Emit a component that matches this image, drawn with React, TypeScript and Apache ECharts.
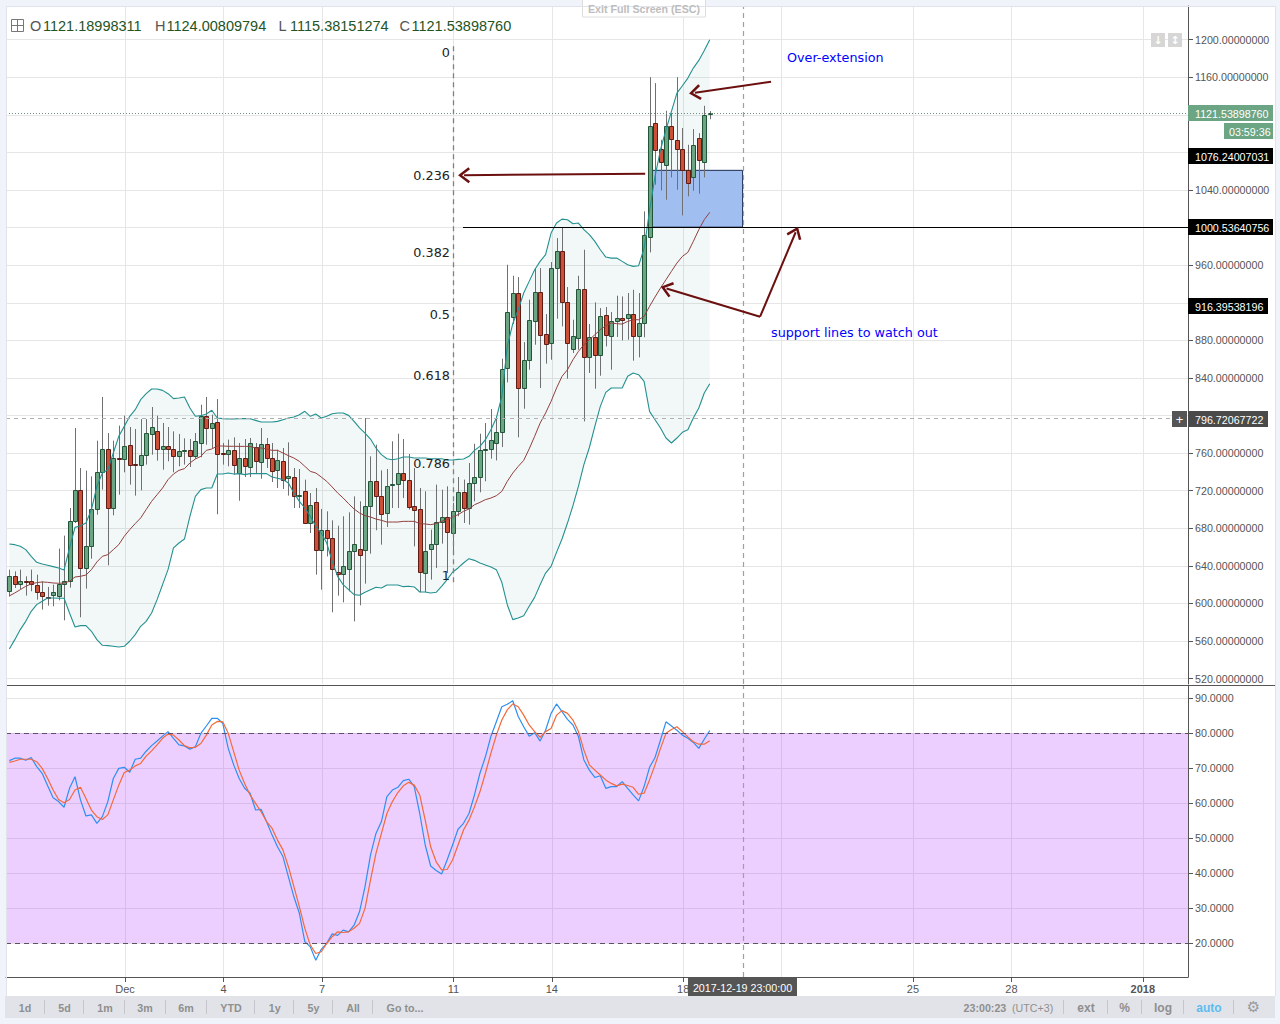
import React, { useEffect, useRef } from "react";
import * as echarts from "echarts";

const opens = [
  613.0, 628.9, 620.8, 624, 624, 619.7, 612.3, 606.9, 608.7, 607.6,
  620.8, 623.6, 687.8, 720.8, 637.8, 661.2, 700.6, 739.9, 764.4, 701.6,
  754.8, 753.8, 768.7, 748.1, 747.4, 758, 780.4, 783.6, 764.4, 767.6,
  764.4, 756.6, 762.3, 763.4, 757, 770.8, 799.5, 786.8, 793.2, 759.8,
  759.1, 763.4, 738.9, 754.8, 745.2, 766.5, 750.6, 769.7, 754.8, 742,
  751.6, 733.5, 734.6, 714.4, 719.7, 685.7, 708, 656.9, 678.2, 669.7,
  633.5, 631.4, 636.7, 655.9, 658, 656.9, 703.8, 730.4, 714.4, 696.3,
  725.7, 727.2, 738.9, 731.4, 703.8, 700.6, 632.5, 658, 663.3, 686.7,
  692, 675, 698.4, 718.6, 701.6, 728.2, 734.6, 763.3, 764.4, 770.8,
  782.5, 850.6, 904.8, 930.4, 829.3, 859.1, 900.6, 931.4, 886.8, 877.2,
  957, 975.1, 920.8, 870.8, 882.5, 934.6, 862.3, 883.6, 864.4, 907,
  884.6, 900.6, 903.8, 903.8, 908, 884.6, 898.5, 990, 1111.3, 1083.6,
  1066.6, 1108.1, 1093.2, 1083.6, 1061.3, 1053.8, 1095.3, 1069.8, 1121.19,
];
const closes = [
  628.9, 620.8, 624, 623.6, 620.8, 612.3, 607.6, 606.6, 612.3, 620.8,
  624, 687.8, 720.8, 637.8, 661.2, 700.6, 739.9, 764.4, 701.6, 754.8,
  753.8, 767.6, 747.4, 747.4, 758, 781.4, 787.8, 764.4, 767.6, 764.4,
  756.6, 762.3, 763.4, 756.6, 772.9, 799.5, 786.8, 792.1, 759.1, 759.1,
  763.4, 747.4, 754.8, 746.3, 770.8, 751.6, 769.7, 754.8, 741, 752.7,
  731.4, 735.7, 714.4, 715.5, 685.7, 704.8, 656.9, 678.2, 669.7, 636.7,
  631.4, 639.9, 655.9, 663.3, 651.6, 703.8, 730.4, 714.4, 695.2, 725,
  727.2, 738.9, 731.4, 702.7, 699.5, 633.5, 655.9, 663.3, 686.7, 692,
  676.1, 698.4, 718.6, 701.6, 728.2, 734.6, 763.7, 764.4, 774.3, 782.5,
  849.5, 910.2, 930.4, 829.3, 859.1, 901.7, 931.4, 885.7, 876.1, 957,
  975.1, 920.8, 877.2, 884.6, 934.6, 862.3, 883.6, 864.4, 905.9, 885.7,
  900.6, 903.8, 901.7, 908, 884.6, 898.5, 992.1, 1108.1, 1082.6, 1069.8,
  1108.1, 1094.3, 1083.6, 1061.3, 1047.4, 1087.9, 1071.9, 1119.8, 1121.54,
];
const highs = [
  636, 634.2, 636, 628.9, 636, 630.7, 623.6, 617.6, 620, 658.4,
  672.2, 701.6, 786.8, 744.2, 741.4, 735.3, 773.3, 819.8, 781.4, 773.3,
  789.3, 799.9, 787.8, 785.7, 796.3, 796.3, 809.1, 799.9, 792.1, 787.8,
  783.2, 780.4, 775.8, 775.1, 781.4, 811.6, 819.8, 801, 817.6, 770.8,
  774.4, 776.8, 770.8, 775, 776.1, 770.8, 786.8, 776.1, 770.8, 763.7,
  765.5, 771.5, 744.2, 743.1, 731.8, 717.6, 722.9, 700.6, 698.1, 688.5,
  682.8, 692.8, 697, 714, 708.7, 797.4, 756.6, 769, 741.7, 743.1,
  772.6, 780.7, 775, 759.1, 744.2, 722.9, 719.4, 678.6, 726.5, 721.1,
  724.7, 707, 734.6, 731.8, 749.5, 770, 780.7, 792.1, 807, 799.1,
  860.5, 960.5, 948.8, 947.4, 878.2, 923.3, 957, 957, 908, 963.4,
  988.9, 1000.6, 936.8, 902, 948.8, 976.5, 897.4, 920.5, 914.4, 915.5,
  910.2, 927.6, 926.8, 930.4, 933.9, 930.4, 1017.3, 1160.2, 1153.8, 1093.5,
  1124.4, 1121.9, 1160.2, 1106, 1088.2, 1104.9, 1100.6, 1129.7, 1124.01,
];
const lows = [
  607.6, 616.5, 615.4, 608.4, 613, 604.1, 593.5, 597.7, 597, 603.4,
  582.1, 616.9, 685.7, 585.3, 615.8, 647.7, 694.5, 721.2, 640.6, 693.8,
  715.8, 739.6, 726.5, 714.8, 720.4, 747.8, 758.4, 752, 742.4, 751.3,
  739.6, 746, 747.8, 745.3, 753.8, 755.6, 769, 765.5, 694.9, 747.8,
  746, 737.1, 709.4, 734.6, 734.6, 738.9, 732.8, 744.2, 729.3, 722.9,
  721.8, 714.8, 701.6, 701.6, 685, 675, 630.7, 614.7, 650, 590.6,
  608.3, 601.2, 612.9, 581, 598, 621.1, 653, 677.9, 662.6, 681.4,
  701.6, 701.6, 712.3, 699.9, 660.8, 611.9, 611.9, 625.4, 637.8, 663.7,
  632.5, 653.7, 692.8, 685.7, 683.9, 708.7, 718.3, 730, 754.1, 752.3,
  766.5, 835.3, 897.4, 776.8, 807.3, 848.8, 875.4, 829.3, 855.2, 859.4,
  903.1, 894.9, 839.2, 866.5, 870.1, 793.8, 845.3, 828.6, 842.4, 873.6,
  848.8, 883.6, 880, 880.7, 858.4, 861.9, 883.3, 973.7, 1045.7, 1039.6,
  1029.7, 1053.5, 1040.3, 1013, 1033.3, 1039.3, 1036.1, 1053.5, 1115.38,
];
const bbUpper = [
  663.3, 662.6, 660.9, 657.3, 650.2, 643.8, 642, 640.6, 639.2, 637.8,
  635.7, 659.1, 681, 682.8, 685.7, 699.9, 724.7, 738.9, 742.4, 760.2,
  777.9, 788.5, 799.2, 806.3, 816.9, 823.3, 828.3, 828.3, 826.8, 823.3,
  818, 818.7, 819.8, 808, 799.2, 799.9, 801.7, 805.6, 797.4, 796.7,
  796.3, 796.3, 796.7, 796.7, 796.7, 794.9, 793.1, 793.1, 793.1, 793.8,
  795.6, 797.4, 798.5, 800.9, 804.5, 799.2, 801.6, 797.4, 799.2, 802,
  802.7, 802.7, 800.2, 793.8, 786.8, 781.4, 775, 765.5, 758.4, 754.1,
  753, 754.1, 755.9, 755.9, 754.8, 754.8, 754.8, 754.1, 754.1, 754.1,
  752.7, 752.7, 753.4, 753.8, 756.6, 762.9, 767.2, 774.3, 785, 797.4,
  820.4, 873.6, 897.8, 912.6, 930.4, 942.8, 955.2, 964.1, 971.2, 994.2,
  1004.9, 1009.1, 1008.4, 1004.2, 1004.9, 997.8, 992.5, 985.4, 976.5, 968.7,
  967.6, 967.6, 964.1, 960.5, 958.8, 959.5, 978, 1018, 1054.5, 1082.9,
  1104.2, 1123.7, 1143.2, 1151, 1159.2, 1169.8, 1178, 1188.6, 1200,
];
const bbLower = [
  551.6, 561.5, 572.2, 581, 591.7, 598.8, 602.3, 605.9, 605.9, 605.5,
  605.5, 589.9, 575, 576.4, 576.4, 570.4, 561.5, 555.5, 555.1, 554.4,
  553.7, 554.4, 559.8, 566.9, 575.7, 581, 589.9, 604.1, 620, 636,
  659.1, 664.4, 668.6, 692.8, 714, 721.2, 722.9, 722.9, 737.8, 737.8,
  738.9, 737.8, 738.2, 737.1, 738.2, 738.2, 738.2, 738.2, 734.6, 733.2,
  731.8, 728.2, 717.6, 708.7, 701.6, 692.8, 682.1, 675, 664.4, 644.9,
  628.9, 620, 614.7, 609.4, 608.7, 611.9, 614.7, 617.2, 616.5, 619.7,
  619.7, 619.7, 617.9, 618.3, 617.6, 612.2, 612.2, 611.2, 611.9, 618.3,
  625.4, 633.2, 637.8, 643.1, 647.7, 645.9, 643, 640.9, 638.8, 636,
  622.5, 598.7, 582.8, 584.5, 587, 597, 606.5, 620, 632.4, 639.5,
  654.4, 668.6, 685.6, 704.1, 724.6, 747.7, 766, 788.5, 809.8, 824.7,
  829.3, 829.3, 829.3, 841.8, 845.3, 843.5, 836.4, 804.5, 795.6, 786.8,
  776.1, 770.8, 776.1, 782.2, 785, 797.4, 808, 824, 833.9,
];
const bbBasis = [
  608, 611.2, 614.7, 618.3, 620.8, 622.2, 622.9, 622.5, 621.8, 621.5,
  621.8, 623.6, 628.2, 628.9, 630.3, 636, 644.2, 650.2, 652, 657.3,
  662.6, 671.5, 678.6, 685, 691, 699.9, 708.7, 715.8, 722.9, 731.8,
  737.8, 741.7, 743.5, 749.5, 753.8, 756.6, 763, 764.4, 767.6, 767.6,
  767.3, 767.3, 767.2, 767.2, 767.2, 765.5, 765.5, 764.4, 763, 763,
  760.2, 757.3, 754.8, 751.3, 746, 740.6, 738.9, 734.6, 730, 724,
  717.6, 712.3, 706.2, 700.6, 696.3, 693.5, 692, 689.9, 688.5, 686.7,
  686.7, 686.7, 687.4, 687.4, 687.4, 685, 684.6, 683.9, 685, 687.4,
  689.2, 692, 694.5, 698.1, 700.6, 705.1, 707.6, 710.5, 712.2, 714.7,
  719.3, 730, 738.8, 745.9, 752.3, 764.5, 777.9, 792, 802.7, 815.1,
  829.3, 841.7, 848.8, 859.4, 868.3, 875.4, 880.7, 886, 891.4, 895.6,
  898.5, 897.8, 897.4, 900.2, 902, 902, 905.6, 916.2, 926.2, 935.7,
  944.6, 953.5, 962.3, 969.4, 973.7, 985.4, 997.8, 1008.5, 1016.3,
];
const stochK = [
  72.1, 72.8, 72.8, 72.2, 73, 70.4, 68.5, 64.9, 61.5, 60.4,
  58.8, 64.2, 67.5, 60.9, 56.3, 56.6, 54.2, 56.1, 60.4, 67,
  69.9, 70.2, 68.8, 72.5, 72.8, 74.8, 76.4, 77.7, 79.1, 80.4,
  78.5, 76.6, 76.3, 75.4, 76.1, 79.9, 82, 84.2, 84.2, 82.8,
  75.6, 70.9, 67, 64.2, 62.8, 58, 58.2, 54.7, 50.9, 47.5,
  44.7, 38.9, 33.2, 28.5, 20.4, 18.9, 15.1, 18.2, 19.9, 22.6,
  22.2, 23.7, 23.2, 25.1, 29, 36.1, 45.1, 51.3, 54.7, 61.8,
  63.7, 64.5, 66.4, 66.8, 64.7, 57, 48, 42, 40.7, 39.7,
  43.7, 48, 52.5, 54.2, 57, 62.3, 68.5, 73.2, 79, 83.2,
  87.5, 88.2, 89.2, 84.7, 81.8, 79.1, 80.1, 77.7, 80.8, 85.6,
  88.3, 86.1, 83.9, 82.3, 79, 72.3, 69.4, 67.3, 67.8, 64.2,
  64.7, 64.7, 66.1, 64.2, 62.3, 60.6, 64.7, 70.2, 73, 78,
  83.2, 82, 80.8, 79.4, 78.5, 77.3, 75.6, 78.2, 80.7,
];
const stochD = [
  71.6, 72, 72.5, 72.5, 72.5, 71.8, 69.9, 67, 63.7, 61,
  60.1, 61, 63.7, 64.5, 61.3, 58, 56.1, 55.3, 56.6, 60.9,
  65.1, 68.7, 69.4, 70.6, 71.3, 73.4, 74.9, 76.6, 78.5, 79.7,
  79.4, 78, 76.4, 75.8, 75.9, 77, 79.4, 82.3, 83.3, 83.2,
  79.9, 74.7, 69.4, 65.6, 62.3, 59.9, 57.5, 54.7, 52.8, 49.4,
  46.6, 41.8, 36.1, 30.4, 24.2, 19.4, 17, 17.5, 19.9, 21.8,
  23.2, 23, 23.2, 24.2, 25.6, 29.9, 38, 45.6, 51.3, 57,
  60.4, 63, 64.9, 65.9, 65.1, 62.3, 55.1, 47.5, 43.2, 40.9,
  41, 43.7, 48, 52.3, 55.1, 58.9, 63.2, 68.5, 74.2, 79.4,
  83.7, 86.6, 88.3, 87.5, 85.1, 82.3, 80.4, 78.8, 80.4, 81.3,
  85.1, 86.4, 85.6, 83.7, 80.4, 75.1, 70.9, 69.4, 68, 66.6,
  65.6, 64.9, 65.4, 65, 64.5, 62.5, 62.8, 66.6, 70.9, 75.6,
  79.9, 81, 81.8, 80.4, 78.9, 77.5, 76.8, 76.8, 77.8,
];

const xTicks = [22.14, 40.14, 58.14, 82.14, 100.14, 124.14, 142.14, 166.14, 184.14, 208.14];
const xTickLabels = ["Dec", "4", "7", "11", "14", "18", "", "25", "28", "2018"];
const priceTicks = [520, 560, 600, 640, 680, 720, 760, 800, 840, 880, 920, 960, 1000, 1040, 1080, 1120, 1160, 1200];
const priceLabelled = [520, 560, 600, 640, 680, 720, 760, 840, 880, 960, 1040, 1160, 1200];
const oscTicks = [20, 30, 40, 50, 60, 70, 80, 90];
const fibLabels = ["0", "0.236", "0.382", "0.5", "0.618", "0.786", "1"];
const rangeButtons = ["1d", "5d", "1m", "3m", "6m", "YTD", "1y", "5y", "All", "Go to..."];
const header = [
  ["O", "1121.18998311"],
  ["H", "1124.00809794"],
  ["L", "1115.38151274"],
  ["C", "1121.53898760"],
];
const lastPrice = 1121.5389876;
const crossPrice = 796.72067722;
const crossIndex = 135.08;
const supportLevel = 1000.53640756;
const zoneTop = 1061;
const SANS = "'Liberation Sans', Arial, sans-serif";
const VERD = "'DejaVu Sans', Verdana, sans-serif";
const AXIS_FONT = 10.7;
const X_MIN = 0.39;
const X_MAX = 216.4;
const P_MIN = 514.3;
const P_MAX = 1235.9;
const yPx = (v: number) => 6 + ((P_MAX - v) / (P_MAX - P_MIN)) * 678;

const ARROW = "path://M10 0 L20 13 L17.5 15 L10 5 L2.5 15 L0 13 Z";
const arrowStyle = { color: "#6b0f0f", width: 2, type: "solid", opacity: 1 };
const arrowLine = (a: number[], b: number[]) => [
  { coord: a, symbol: "none", lineStyle: arrowStyle },
  { coord: b, symbol: ARROW, symbolSize: [16, 12] },
];

const renderCandle = (_: any, api: any) => {
  const x = api.value(0);
  const o = api.value(1);
  const c = api.value(2);
  const l = api.value(3);
  const h = api.value(4);
  const up = c >= o;
  const cx = Math.round(api.coord([x, o])[0]) + 0.5;
  const yo = api.coord([x, o])[1];
  const yc = api.coord([x, c])[1];
  const top = Math.round(Math.min(yo, yc)) + 0.5;
  const bot = Math.round(Math.max(yo, yc)) + 0.5;
  return {
    type: "group",
    children: [
      {
        type: "line",
        shape: { x1: cx, y1: api.coord([x, h])[1], x2: cx, y2: api.coord([x, l])[1] },
        style: { stroke: "#707072", lineWidth: 1 },
      },
      {
        type: "rect",
        shape: { x: cx - 2, y: top, width: 4, height: Math.max(bot - top, 1) },
        style: { fill: up ? "#6ba583" : "#cc5038", stroke: up ? "#225437" : "#5f1c14", lineWidth: 1 },
      },
    ],
  };
};

const renderZone = (_: any, api: any) => {
  const a = api.coord([api.value(0), api.value(1)]);
  const b = api.coord([api.value(2), api.value(3)]);
  return {
    type: "rect",
    shape: { x: a[0], y: a[1], width: b[0] - a[0], height: b[1] - a[1] },
    style: { fill: "#a0bff0", stroke: "#1c2c50", lineWidth: 1 },
  };
};

const renderBandFill = (_: any, api: any) => {
  const up = bbUpper.map((v, i) => api.coord([i + 1, v]));
  const dn = bbLower.map((v, i) => api.coord([i + 1, v])).reverse();
  return {
    type: "polygon",
    shape: { points: up.concat(dn) },
    style: { fill: "rgba(30,140,140,0.06)", stroke: "none" },
  };
};

const txt = (x: number, y: number, text: string, fill: string, font: any = {}) => ({
  type: "text",
  x,
  y,
  z: 50,
  silent: true,
  style: {
    text,
    fill,
    fontFamily: SANS,
    fontSize: AXIS_FONT,
    align: "left",
    verticalAlign: "middle",
    ...font,
  },
});
const box = (x: number, y: number, w: number, h: number, fill: string, stroke?: string) => ({
  type: "rect",
  z: 40,
  silent: true,
  shape: { x, y, width: w, height: h },
  style: { fill, stroke: stroke || "none", lineWidth: 1 },
});
const seg = (x1: number, y1: number, x2: number, y2: number, stroke: string) => ({
  type: "line",
  z: 45,
  silent: true,
  shape: { x1, y1, x2, y2 },
  style: { stroke, lineWidth: 1 },
});

function buildGraphics() {
  const els: any[] = [];
  // frame
  els.push(seg(6, 685.5, 1275, 685.5, "#555555"));
  els.push(seg(6.5, 6, 6.5, 996, "#e0e3eb"));
  els.push(seg(6, 6.5, 1275, 6.5, "#e0e3eb"));
  els.push(seg(1275.5, 6, 1275.5, 996, "#e0e3eb"));
  // exit banner
  els.push(box(582.5, -3, 123, 20, "#ffffff", "#dddddd"));
  els.push(txt(644, 9, "Exit Full Screen (ESC)", "#bdbdbd", { align: "center", fontWeight: "bold" }));
  // header
  els.push(box(11.5, 19.5, 12, 12, "#ffffff", "#777777"));
  els.push(seg(17.5, 19.5, 17.5, 31.5, "#777777"));
  els.push(seg(11.5, 25.5, 23.5, 25.5, "#777777"));
  const hx = [[30, 43], [155, 166.5], [278.5, 290], [399.5, 411.5]];
  header.forEach((h, i) => {
    els.push(txt(hx[i][0], 26, h[0], "#555555", { fontSize: 14.5 }));
    els.push(txt(hx[i][1], 26, h[1], "#23531f", { fontSize: 14.5 }));
  });
  // scale buttons
  els.push(box(1151, 33, 14, 14, "#d6d6d6"));
  els.push(box(1168, 33, 14, 14, "#d6d6d6"));
  els.push(txt(1158, 40, "↓", "#ffffff", { align: "center", fontFamily: VERD, fontSize: 11, fontWeight: "bold" }));
  els.push(txt(1175, 40, "↕", "#ffffff", { align: "center", fontFamily: VERD, fontSize: 11, fontWeight: "bold" }));
  // fib labels
  const fibY = [52, 175, 252, 314, 375, 463, 575];
  fibLabels.forEach((f, i) => {
    els.push(txt(450, fibY[i], f, "#222222", { align: "right", fontFamily: VERD, fontSize: 12.8 }));
  });
  // annotations
  els.push(txt(787, 57.5, "Over-extension", "#0000ff", { fontFamily: VERD, fontSize: 12.75 }));
  els.push(txt(771, 332.5, "support lines to watch out", "#0000ff", { fontFamily: VERD, fontSize: 12.75 }));
  // price tags
  const tag = (v: number, s: string, fill: string, right: number) => {
    const y = Math.round(yPx(v));
    els.push(box(1188, y - 8, right - 1188, 16, fill));
    els.push(txt(1195, y + 0.5, s, "#ffffff"));
  };
  tag(lastPrice, "1121.53898760", "#6ba583", 1273);
  els.push(box(1224, 123, 49, 16, "#6ba583"));
  els.push(txt(1229, 131.5, "03:59:36", "#ffffff"));
  tag(1076.24007031, "1076.24007031", "#000000", 1273);
  tag(supportLevel, "1000.53640756", "#000000", 1273);
  tag(916.39538196, "916.39538196", "#000000", 1268);
  tag(crossPrice, "796.72067722", "#4a4a4a", 1268);
  els.push(box(1172, Math.round(yPx(crossPrice)) - 8, 15, 16, "#555555"));
  els.push(txt(1179.5, Math.round(yPx(crossPrice)) + 0.5, "+", "#ffffff", { align: "center", fontSize: 13 }));
  // time tag
  els.push(box(688, 978, 109, 18, "#555555"));
  els.push(txt(742.5, 988, "2017-12-19 23:00:00", "#ffffff", { align: "center" }));
  // bottom bar
  els.push(box(5, 996, 1270, 22, "#e1e3e8"));
  const bx = [25, 64.5, 105, 145, 186, 231, 274.7, 313.5, 353, 405];
  rangeButtons.forEach((b, i) => {
    els.push(txt(bx[i], 1007.5, b, "#8f8f8f", { align: "center", fontWeight: "bold" }));
  });
  [44.5, 83.5, 124.5, 165.5, 206.5, 254.5, 293.5, 332.5, 372.5].forEach((x) =>
    els.push(seg(x, 1000, x, 1014, "#c4c6cc"))
  );
  els.push(txt(963.5, 1007.5, "23:00:23", "#8f8f8f", { fontWeight: "bold" }));
  els.push(txt(1012, 1007.5, "(UTC+3)", "#8f8f8f"));
  [1063.5, 1107.5, 1141.5, 1183.5, 1233.5].forEach((x) => els.push(seg(x, 1000, x, 1014, "#c4c6cc")));
  els.push(txt(1086, 1007.5, "ext", "#8f8f8f", { align: "center", fontSize: 12, fontWeight: "bold" }));
  els.push(txt(1124.5, 1007.5, "%", "#8f8f8f", { align: "center", fontSize: 12, fontWeight: "bold" }));
  els.push(txt(1163, 1007.5, "log", "#8f8f8f", { align: "center", fontSize: 12, fontWeight: "bold" }));
  els.push(txt(1209, 1007.5, "auto", "#5dbcef", { align: "center", fontSize: 12, fontWeight: "bold" }));
  els.push(txt(1253.5, 1007, "⚙", "#9a9a9a", { align: "center", fontFamily: VERD, fontSize: 15 }));
  return els;
}

const rows = opens.map((o, i) => [i + 1, o, closes[i], lows[i], highs[i]]);
const pts = (a: number[]) => a.map((v, i) => [i + 1, v]);
const grid = { show: true, lineStyle: { color: "#e6e6e6", width: 1 } };

function makeXAxis(gridIndex: number, labelled: boolean) {
  return {
    type: "value",
    gridIndex,
    min: X_MIN,
    max: X_MAX,
    position: "bottom",
    splitLine: grid,
    axisLine: { show: labelled, onZero: false, lineStyle: { color: "#555555", width: 1 } },
    axisTick: { show: labelled, length: 5, customValues: xTicks, lineStyle: { color: "#555555" } },
    axisLabel: {
      show: labelled,
      customValues: xTicks,
      color: "#555555",
      fontFamily: SANS,
      fontSize: 11,
      margin: 6,
      showMinLabel: true,
      showMaxLabel: true,
      formatter: (v: number) => {
        const k = xTicks.findIndex((t) => Math.abs(t - v) < 0.01);
        const s = k >= 0 ? xTickLabels[k] : "";
        return s === "2018" ? "{b|2018}" : s;
      },
      rich: { b: { fontWeight: "bold", color: "#555555", fontSize: 11, fontFamily: SANS } },
    },
  };
}
function makeYAxis(gridIndex: number, min: number, max: number, ticks: number[], labelled: number[], dec: number) {
  return {
    type: "value",
    gridIndex,
    min,
    max,
    position: "right",
    splitLine: grid,
    axisLine: { show: true, lineStyle: { color: "#555555", width: 1 } },
    axisTick: { show: true, length: 5, customValues: ticks, lineStyle: { color: "#555555" } },
    axisLabel: {
      customValues: labelled,
      color: "#555555",
      fontFamily: SANS,
      fontSize: AXIS_FONT,
      margin: 7,
      formatter: (v: number) => v.toFixed(dec),
    },
  };
}

const lineSeries = (name: string, data: number[], color: string, z: number, width: number, extra: any = {}) => ({
  type: "line",
  name,
  data: pts(data),
  z,
  silent: true,
  symbol: "none",
  showSymbol: false,
  lineStyle: { color, width },
  ...extra,
});

function buildOption() {
  const dash = { type: [4, 4], width: 1 };
  return {
    animation: false,
    backgroundColor: "transparent",
    grid: [
      { left: 6, top: 6, width: 1182, height: 678 },
      { left: 6, top: 686, width: 1182, height: 291 },
    ],
    xAxis: [makeXAxis(0, false), makeXAxis(1, true)],
    yAxis: [
      makeYAxis(0, P_MIN, P_MAX, priceTicks, priceLabelled, 8),
      makeYAxis(1, 10.29, 93.43, oscTicks, oscTicks, 4),
    ],
    graphic: { elements: buildGraphics() },
    series: [
      {
        type: "custom",
        name: "BB fill",
        z: 1,
        silent: true,
        renderItem: renderBandFill,
        encode: { x: 0, y: 1 },
        data: [[1, bbLower[0]]],
      },
      {
        type: "custom",
        name: "Zone",
        z: 2,
        silent: true,
        renderItem: renderZone,
        encode: { x: [0, 2], y: [1, 3] },
        data: [[118.3, zoneTop, 135, supportLevel]],
      },
      {
        type: "custom",
        name: "Candles",
        z: 3,
        silent: true,
        renderItem: renderCandle,
        encode: { x: 0, y: [1, 2, 3, 4] },
        data: rows,
      },
      lineSeries("BB upper", bbUpper, "#24908f", 4, 1.1, {
        markLine: {
          silent: true,
          symbol: "none",
          label: { show: false },
          animation: false,
          data: [
            { yAxis: lastPrice, lineStyle: { color: "#6f8f7f", type: [1, 2], width: 1 } },
            { yAxis: crossPrice, lineStyle: { color: "#b0b0b0", ...dash } },
            [
              { coord: [82.08, 1193], symbol: "none", lineStyle: { color: "#808080", type: [5, 4], width: 1.3 } },
              { coord: [82.08, 622], symbol: "none" },
            ],
            { xAxis: crossIndex, lineStyle: { color: "#a0a0a0", type: [5, 4], width: 1.2 } },
            [
              { coord: [83.9, supportLevel], symbol: "none", lineStyle: { color: "#000000", type: "solid", width: 1 } },
              { coord: [X_MAX, supportLevel], symbol: "none" },
            ],
            arrowLine([117.2, 1057.4], [84.1, 1055.8]),
            arrowLine([140.2, 1155.3], [126.3, 1143.6]),
            arrowLine([138.2, 905.2], [121.1, 935.3]),
            arrowLine([138.2, 905.2], [144.7, 995.1]),
          ],
        },
      }),
      lineSeries("BB lower", bbLower, "#24908f", 4, 1.1),
      lineSeries("BB basis", bbBasis, "#91403f", 4, 1),
      lineSeries("Stoch K", stochK, "#2f8ff0", 4, 1.2, {
        xAxisIndex: 1,
        yAxisIndex: 1,
        markArea: {
          silent: true,
          itemStyle: { color: "rgba(170,40,250,0.225)" },
          data: [[{ yAxis: 80 }, { yAxis: 20 }]],
        },
        markLine: {
          silent: true,
          symbol: "none",
          label: { show: false },
          animation: false,
          data: [
            { yAxis: 80, lineStyle: { color: "#5f5068", type: [5, 4], width: 1 } },
            { yAxis: 20, lineStyle: { color: "#5f5068", type: [5, 4], width: 1 } },
            { xAxis: crossIndex, lineStyle: { color: "#a0a0a0", type: [5, 4], width: 1.2 } },
          ],
        },
      }),
      lineSeries("Stoch D", stochD, "#f4693a", 4, 1.2, { xAxisIndex: 1, yAxisIndex: 1 }),
    ],
  };
}

export default function App() {
  const ref = useRef<HTMLDivElement>(null);
  useEffect(() => {
    document.body.style.margin = "0";
    document.body.style.background = "#f0f3fa";
    const chart = echarts.init(ref.current!, undefined, { renderer: "svg" });
    chart.setOption(buildOption() as any);
    return () => chart.dispose();
  }, []);
  return (
    <div style={{ position: "absolute", left: 0, top: 0, width: 1280, height: 1024, background: "#f0f3fa", overflow: "hidden" }}>
      <div style={{ position: "absolute", left: 6, top: 6, width: 1269, height: 990, background: "#ffffff" }} />
      <div ref={ref} style={{ position: "absolute", left: 0, top: 0, width: 1280, height: 1024 }} />
    </div>
  );
}
